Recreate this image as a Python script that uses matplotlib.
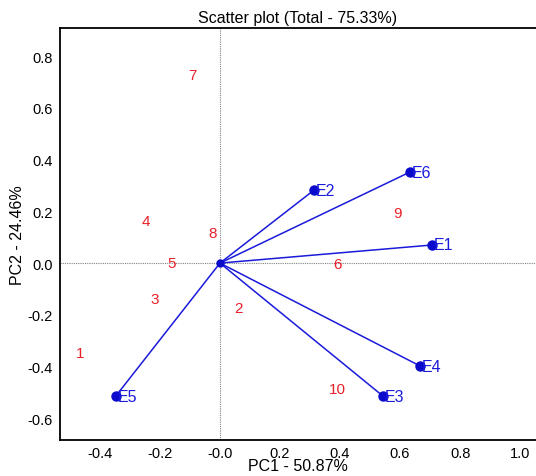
import matplotlib
matplotlib.use("Agg")
import matplotlib.pyplot as plt

plt.rcParams['font.family'] = ['Liberation Sans', 'DejaVu Sans']

# variable vectors (loadings)
var_names = ["E1", "E2", "E3", "E4", "E5", "E6"]
var_pc1 = [0.707, 0.313, 0.543, 0.667, -0.347, 0.633]
var_pc2 = [0.070, 0.282, -0.514, -0.398, -0.514, 0.352]

# observation scores
obs_names = ["1", "2", "3", "4", "5", "6", "7", "8", "9", "10"]
obs_pc1 = [-0.467, 0.063, -0.217, -0.247, -0.160, 0.390, -0.093, -0.023, 0.590, 0.390]
obs_pc2 = [-0.348, -0.174, -0.139, 0.162, 0.000, -0.004, 0.727, 0.116, 0.193, -0.487]

xticks = [-0.4, -0.2, 0.0, 0.2, 0.4, 0.6, 0.8, 1.0]
xtick_labels = ["-0.4", "-0.2", "-0.0", "0.2", "0.4", "0.6", "0.8", "1.0"]
yticks = [-0.6, -0.4, -0.2, 0.0, 0.2, 0.4, 0.6, 0.8]
ytick_labels = ["-0.6", "-0.4", "-0.2", "0.0", "0.2", "0.4", "0.6", "0.8"]

fig = plt.figure(figsize=(5.36, 4.77), dpi=100)
ax = fig.add_axes([60 / 536, 36 / 477, 476 / 536, 412 / 477])

ax.axhline(0, color="gray", linestyle=(0, (1, 1)), linewidth=0.8)
ax.axvline(0, color="gray", linestyle=(0, (1, 1)), linewidth=0.8)

for name, x, y in zip(var_names, var_pc1, var_pc2):
    ax.plot([0, x], [0, y], color="#1a1adb", linewidth=1.1)
    ax.plot(x, y, "o", color="#0a0acc", markersize=6.5)
    ax.text(x + 0.006, y, name, color="#1a1adb", fontsize=11.5,
            ha="left", va="center")
ax.plot(0, 0, "o", color="#0a0acc", markersize=5)

for name, x, y in zip(obs_names, obs_pc1, obs_pc2):
    ax.text(x, y, name, color="#e8202a", fontsize=11, ha="center", va="center")

ax.set_xlim(-0.533, 1.053)
ax.set_ylim(-0.684, 0.909)
ax.set_xticks(xticks)
ax.set_xticklabels(xtick_labels)
ax.set_yticks(yticks)
ax.set_yticklabels(ytick_labels)
ax.tick_params(axis="x", length=0, labelsize=10.5, pad=4)
ax.spines["right"].set_visible(False)
ax.tick_params(axis="y", length=0, labelsize=10.5, pad=5)
for s in ["left", "bottom", "top"]:
    ax.spines[s].set_linewidth(1.3)

ax.set_title("Scatter plot (Total - 75.33%)", fontsize=11.5, pad=4)
ax.set_xlabel("PC1 - 50.87%", fontsize=11.5, labelpad=-1)
ax.set_ylabel("PC2 - 24.46%", fontsize=11.5, labelpad=2)

fig.savefig("out.png", dpi=100)
